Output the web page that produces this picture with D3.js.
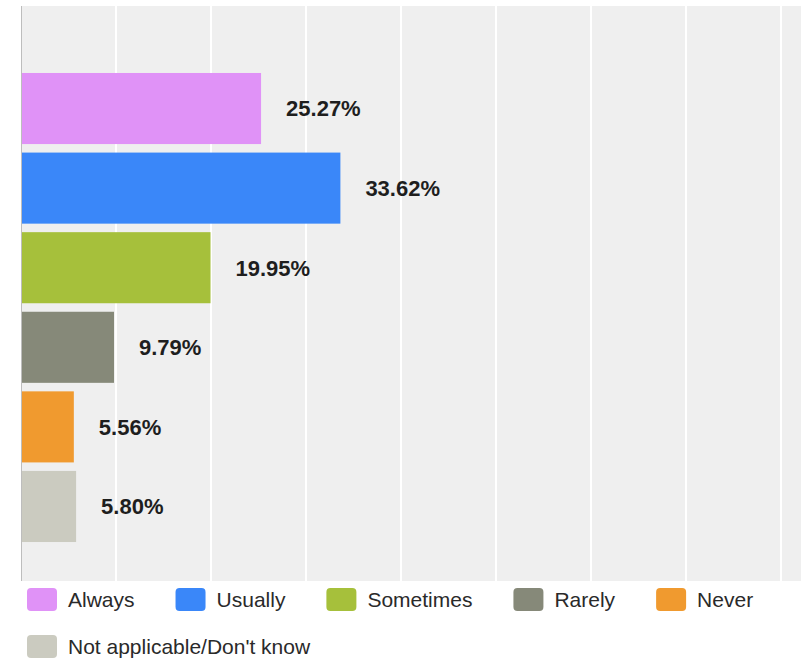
<!DOCTYPE html>
<html>
<head>
<meta charset="utf-8">
<script src="https://cdn.jsdelivr.net/npm/d3@7"></script>
<style>
  html, body { margin: 0; padding: 0; background: #ffffff; }
  svg { display: block; }
</style>
</head>
<body>
<svg id="chart" width="801" height="661"></svg>
<script>
// Survey answers and their shares (%)
const categories = ["Always", "Usually", "Sometimes", "Rarely", "Never", "Not applicable/Don't know"];
const values = [25.27, 33.62, 19.95, 9.79, 5.56, 5.80];
const colors = ["#e092f7", "#3a87f9", "#a6c03b", "#868979", "#f09a2f", "#cbcbc0"];
const gridTicks = [10, 20, 30, 40, 50, 60, 70, 80];

const W = 801, H = 661;
const plot = { left: 21, top: 6, bottom: 581 };

const svg = d3.select("#chart");

const x = d3.scaleLinear().domain([0, 80]).range([plot.left, 781]);
const y = d3.scaleBand()
  .domain(categories)
  .range([69, 546])
  .paddingInner(0.107)
  .paddingOuter(0.05);
const color = d3.scaleOrdinal().domain(categories).range(colors);

// plot background
svg.append("rect")
  .attr("x", plot.left).attr("y", plot.top)
  .attr("width", W - plot.left).attr("height", plot.bottom - plot.top)
  .attr("fill", "#efefef");

// vertical gridlines
svg.append("g")
  .selectAll("line")
  .data(gridTicks)
  .join("line")
  .attr("x1", d => x(d)).attr("x2", d => x(d))
  .attr("y1", plot.top).attr("y2", plot.bottom)
  .attr("stroke", "#ffffff")
  .attr("stroke-width", 2);

// left axis line
svg.append("line")
  .attr("x1", plot.left + 0.5).attr("x2", plot.left + 0.5)
  .attr("y1", plot.top).attr("y2", plot.bottom)
  .attr("stroke", "#bdbdbd")
  .attr("stroke-width", 1);

const rows = categories.map((c, i) => ({ cat: c, value: values[i] }));

// bars
svg.append("g")
  .selectAll("rect")
  .data(rows)
  .join("rect")
  .attr("x", x(0) + 1)
  .attr("y", d => y(d.cat))
  .attr("width", d => x(d.value) - x(0) - 1)
  .attr("height", y.bandwidth())
  .attr("fill", d => color(d.cat));

// value labels
svg.append("g")
  .selectAll("text")
  .data(rows)
  .join("text")
  .attr("x", d => x(d.value) + 25)
  .attr("y", d => y(d.cat) + y.bandwidth() / 2)
  .attr("dy", "0.36em")
  .attr("font-family", "Arial, 'Liberation Sans', sans-serif")
  .attr("font-size", 22)
  .attr("font-weight", "bold")
  .attr("fill", "#1e1e1e")
  .text(d => d.value.toFixed(2) + "%");

// legend: flowing rows of swatch + name
const legend = svg.append("g");
const legendLeft = 27, legendRight = W - 10;
const rowY = [588, 635];
let lx = legendLeft, row = 0;
categories.forEach(c => {
  const item = legend.append("g");
  item.append("rect")
    .attr("width", 30).attr("height", 23)
    .attr("rx", 4).attr("ry", 4)
    .attr("fill", color(c));
  const t = item.append("text")
    .attr("x", 41).attr("y", 19)
    .attr("font-family", "Arial, 'Liberation Sans', sans-serif")
    .attr("font-size", 21)
    .attr("fill", "#2a2a2a")
    .text(c);
  const w = 41 + t.node().getComputedTextLength();
  if (lx + w > legendRight && lx > legendLeft) { row += 1; lx = legendLeft; }
  item.attr("transform", `translate(${lx},${rowY[row]})`);
  lx += w + 41;
});
</script>
</body>
</html>
